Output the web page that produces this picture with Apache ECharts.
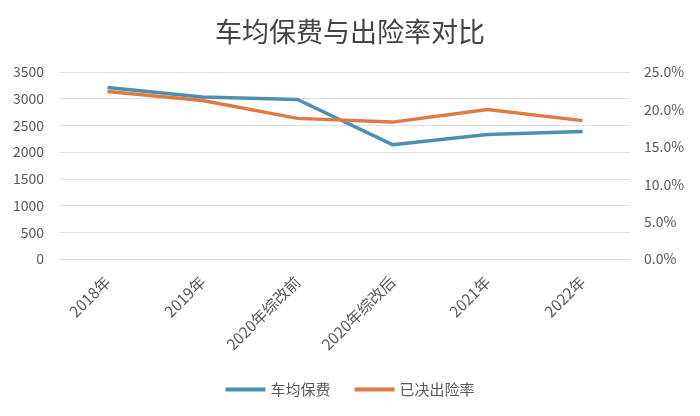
<!DOCTYPE html>
<html><head><meta charset="utf-8">
<script src="https://cdn.jsdelivr.net/npm/echarts@6/dist/echarts.min.js"></script>
<style>html,body{margin:0;padding:0;background:#fff}#c{width:700px;height:416px}</style>
</head><body><div id="c"></div>
<script>
const categories = ['2018年','2019年','2020年综改前','2020年综改后','2021年','2022年'];
const premium = [3210, 3030, 2985, 2140, 2330, 2385];
const claimRate = [22.4, 21.2, 18.8, 18.3, 20.0, 18.5];
const leftTicks = [0, 500, 1000, 1500, 2000, 2500, 3000, 3500];
const rightTicks = [0, 5, 10, 15, 20, 25];

const font = '"Noto Sans CJK SC", "Noto Sans", sans-serif';
const chart = echarts.init(document.getElementById('c'));
chart.setOption({
  animation: false,
  backgroundColor: '#fff',
  title: {
    text: '车均保费与出险率对比', left: 'center', top: 13,
    textStyle: { fontFamily: font, fontSize: 27, fontWeight: 'normal', color: '#444444' }
  },
  legend: {
    bottom: 14, left: 'center', itemWidth: 40, itemHeight: 4, itemGap: 24,
    icon: 'rect',
    textStyle: { fontFamily: font, fontSize: 15, color: '#595959' },
    data: ['车均保费', '已决出险率']
  },
  grid: { left: 60, right: 70, top: 72, bottom: 157 },
  xAxis: {
    type: 'category', data: categories, boundaryGap: true,
    axisLine: { lineStyle: { color: '#d9d9d9' } },
    axisTick: { show: false },
    axisLabel: { rotate: 45, fontFamily: font, fontSize: 15.5, color: '#595959', margin: 20 }
  },
  yAxis: [
    {
      type: 'value', min: leftTicks[0], max: leftTicks[leftTicks.length - 1], interval: 500,
      axisLine: { show: false }, axisTick: { show: false },
      splitLine: { lineStyle: { color: '#e0e0e0' } },
      axisLabel: { fontFamily: font, fontSize: 14, color: '#595959', margin: 16,
        formatter: v => String(v) }
    },
    {
      type: 'value', min: rightTicks[0], max: rightTicks[rightTicks.length - 1], interval: 5,
      axisLine: { show: false }, axisTick: { show: false }, splitLine: { show: false },
      axisLabel: { fontFamily: font, fontSize: 14, color: '#595959', margin: 14,
        formatter: v => v.toFixed(1) + '%' }
    }
  ],
  series: [
    { name: '车均保费', type: 'line', data: premium, yAxisIndex: 0, showSymbol: false,
      lineStyle: { width: 3.5, color: '#4a90b0' }, itemStyle: { color: '#4a90b0' } },
    { name: '已决出险率', type: 'line', data: claimRate, yAxisIndex: 1, showSymbol: false,
      lineStyle: { width: 3.5, color: '#e07a45' }, itemStyle: { color: '#e07a45' } }
  ]
});
</script></body></html>
